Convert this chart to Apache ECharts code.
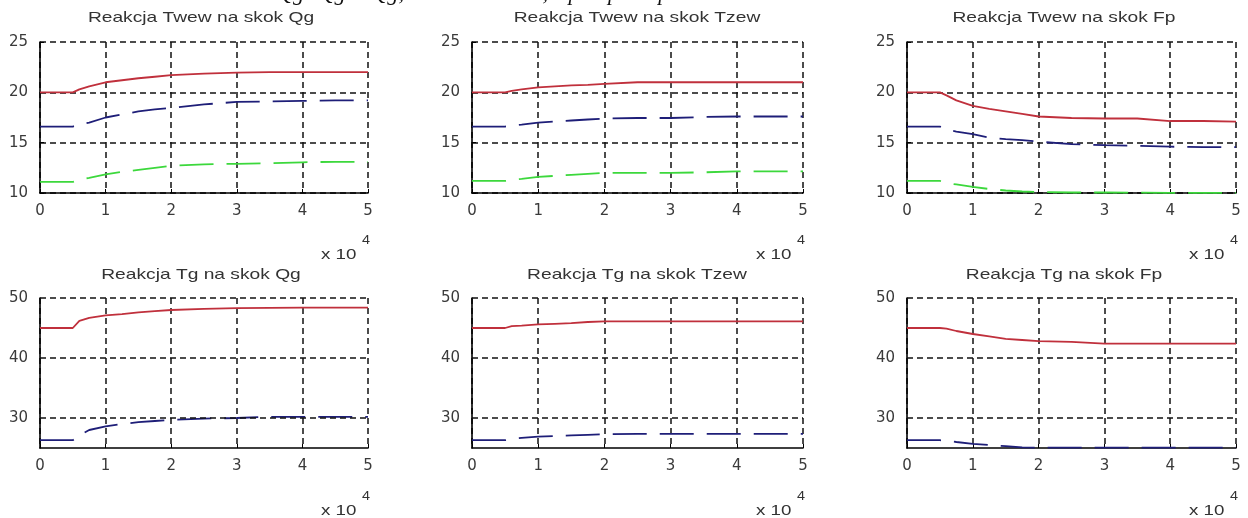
<!DOCTYPE html>
<html>
<head>
<meta charset="utf-8">
<script src="https://cdn.jsdelivr.net/npm/echarts/dist/echarts.min.js"></script>
<style>
  html, body { margin: 0; padding: 0; background: #fff; }
  #chart { width: 1248px; height: 518px; }
</style>
</head>
<body>
<div id="chart"></div>
<script>
// ---------- data ----------
const timeSteps = [0, 5000, 6000, 7500, 10000, 12500, 15000, 17500, 20000, 25000, 30000, 35000, 40000, 45000, 50000];

const titles = [
  'Reakcja Twew na skok Qg', 'Reakcja Twew na skok Tzew', 'Reakcja Twew na skok Fp',
  'Reakcja Tg na skok Qg', 'Reakcja Tg na skok Tzew', 'Reakcja Tg na skok Fp'
];

// Twew response to Qg step
const twewQgRed   = [20.0, 20.0, 20.3, 20.6, 21.0, 21.2, 21.4, 21.55, 21.7, 21.85, 21.95, 22.0, 22.0, 22.0, 22.0];
const twewQgBlue  = [16.6, 16.6, 16.8, 17.0, 17.5, 17.8, 18.1, 18.3, 18.45, 18.8, 19.05, 19.1, 19.15, 19.2, 19.2];
const twewQgGreen = [11.1, 11.1, 11.3, 11.5, 11.85, 12.1, 12.3, 12.5, 12.7, 12.85, 12.9, 12.95, 13.05, 13.1, 13.1];
// Twew response to Tzew step
const twewTzRed   = [20.0, 20.0, 20.15, 20.3, 20.5, 20.6, 20.7, 20.75, 20.85, 21.0, 21.0, 21.0, 21.0, 21.0, 21.0];
const twewTzBlue  = [16.6, 16.6, 16.7, 16.8, 17.0, 17.1, 17.2, 17.3, 17.4, 17.45, 17.45, 17.55, 17.6, 17.6, 17.6];
const twewTzGreen = [11.2, 11.2, 11.3, 11.4, 11.6, 11.7, 11.8, 11.9, 12.0, 12.0, 12.0, 12.05, 12.15, 12.15, 12.15];
// Twew response to Fp step
const twewFpRed   = [20.0, 20.0, 19.7, 19.2, 18.65, 18.35, 18.1, 17.85, 17.6, 17.45, 17.4, 17.4, 17.15, 17.15, 17.1];
const twewFpBlue  = [16.6, 16.6, 16.3, 16.1, 15.85, 15.5, 15.35, 15.25, 15.1, 14.85, 14.75, 14.7, 14.6, 14.55, 14.55];
const twewFpGreen = [11.2, 11.2, 11.0, 10.85, 10.6, 10.4, 10.25, 10.15, 10.1, 10.05, 10.05, 10.03, 10.02, 10.02, 10.02];
// Tg response to Qg step
const tgQgRed   = [45.0, 45.0, 46.2, 46.7, 47.1, 47.3, 47.6, 47.8, 48.0, 48.2, 48.3, 48.35, 48.4, 48.4, 48.4];
const tgQgBlue  = [26.3, 26.3, 27.1, 28.0, 28.6, 29.0, 29.3, 29.5, 29.7, 29.9, 30.0, 30.2, 30.2, 30.2, 30.2];
// Tg response to Tzew step
const tgTzRed   = [45.0, 45.0, 45.3, 45.4, 45.6, 45.7, 45.8, 46.0, 46.1, 46.1, 46.1, 46.1, 46.1, 46.1, 46.1];
const tgTzBlue  = [26.3, 26.3, 26.5, 26.7, 26.9, 27.0, 27.1, 27.2, 27.3, 27.35, 27.35, 27.35, 27.35, 27.35, 27.35];
// Tg response to Fp step
const tgFpRed   = [45.0, 45.0, 44.9, 44.5, 44.0, 43.6, 43.2, 43.0, 42.8, 42.7, 42.4, 42.4, 42.4, 42.4, 42.4];
const tgFpBlue  = [26.3, 26.3, 26.2, 26.0, 25.7, 25.5, 25.3, 25.1, 25.05, 25.05, 25.05, 25.05, 25.05, 25.05, 25.05];

const topRowYTicks = [10, 15, 20, 25];
const bottomRowYTicks = [30, 40, 50];

// ---------- layout ----------
const colLeft = [40, 472, 907];
const colWidth = [328, 331, 329];
const rowTop = [42, 298];
const rowHeight = [151, 150];
const titleCenterX = [201, 637, 1064];
const titleCenterY = [18, 275];
const expCenterY = [255, 511];

const RED = '#c0303c';
const BLUE = '#1e1e78';
const GREEN = '#3cd83c';
const gridLine = { color: '#111', width: 1.5, type: [6, 4] };
const labelStyle = { fontFamily: 'DejaVu Sans', fontSize: 15, color: '#3a3a3a' };

const panels = [
  { series: [[twewQgRed, RED], [twewQgBlue, BLUE], [twewQgGreen, GREEN]] },
  { series: [[twewTzRed, RED], [twewTzBlue, BLUE], [twewTzGreen, GREEN]] },
  { series: [[twewFpRed, RED], [twewFpBlue, BLUE], [twewFpGreen, GREEN]] },
  { series: [[tgQgRed, RED], [tgQgBlue, BLUE]] },
  { series: [[tgTzRed, RED], [tgTzBlue, BLUE]] },
  { series: [[tgFpRed, RED], [tgFpBlue, BLUE]] }
];

const grids = [], xAxes = [], yAxes = [], series = [], graphics = [];

panels.forEach((p, i) => {
  const row = Math.floor(i / 3), col = i % 3;
  grids.push({ left: colLeft[col], top: rowTop[row], width: colWidth[col], height: rowHeight[row], containLabel: false });
  xAxes.push({
    gridIndex: i, type: 'value', min: 0, max: 50000, interval: 10000,
    axisLine: { show: true, onZero: false, lineStyle: { color: '#000', width: 1.6 } },
    axisTick: { show: true, inside: true, length: 4, lineStyle: { color: '#000' } },
    axisLabel: Object.assign({ formatter: v => String(v / 10000), margin: 11 }, labelStyle),
    splitLine: { show: true, lineStyle: gridLine }
  });
  if (row === 0) {
    yAxes.push({
      gridIndex: i, type: 'value', min: topRowYTicks[0], max: topRowYTicks[topRowYTicks.length - 1], interval: 5,
      axisLine: { show: true, onZero: false, lineStyle: { color: '#000', width: 1.6 } },
      axisTick: { show: true, inside: true, length: 4, lineStyle: { color: '#000' } },
      axisLabel: Object.assign({ margin: 12 }, labelStyle),
      splitLine: { show: true, lineStyle: gridLine }
    });
  } else {
    yAxes.push({
      gridIndex: i, type: 'value', min: 25, max: 50, interval: 5,
      axisLine: { show: true, onZero: false, lineStyle: { color: '#000', width: 1.6 } },
      axisTick: { show: false },
      axisLabel: Object.assign({ margin: 12,
                   formatter: v => (bottomRowYTicks.indexOf(v) >= 0 ? String(v) : '') }, labelStyle),
      splitLine: { show: false }
    });
  }
  p.series.forEach(([vals, color], k) => {
    const s = {
      type: 'line', xAxisIndex: i, yAxisIndex: i,
      data: timeSteps.map((t, j) => [t, vals[j]]),
      showSymbol: false, symbol: 'none', silent: true, animation: false,
      lineStyle: { color: color, width: 1.8, type: k === 0 ? 'solid' : [34, 13] },
      z: 3 + (2 - k)
    };
    if (row === 1 && k === 0) {
      s.markLine = {
        silent: true, symbol: ['none', 'none'], label: { show: false }, animation: false,
        lineStyle: gridLine,
        data: bottomRowYTicks.map(v => ({ yAxis: v }))
      };
    }
    series.push(s);
  });

  // title
  graphics.push({
    type: 'text', x: titleCenterX[col], y: titleCenterY[row], scaleX: 1.28,
    style: { text: titles[i], fontFamily: 'Liberation Sans', fontSize: 15, fill: '#333',
             align: 'center', verticalAlign: 'middle', textAlign: 'center', textVerticalAlign: 'middle' }
  });
  // x 10^4 multiplier
  const right = colLeft[col] + colWidth[col];
  graphics.push({
    type: 'text', x: right - 47, y: expCenterY[row], scaleX: 1.25,
    style: { text: 'x 10', fontFamily: 'Liberation Sans', fontSize: 15, fill: '#333',
             align: 'left', verticalAlign: 'middle', textAlign: 'left', textVerticalAlign: 'middle' }
  });
  graphics.push({
    type: 'text', x: right - 6, y: expCenterY[row] - 14, scaleX: 1.2,
    style: { text: '4', fontFamily: 'Liberation Sans', fontSize: 12, fill: '#333',
             align: 'left', verticalAlign: 'middle', textAlign: 'left', textVerticalAlign: 'middle' }
  });
});

// clipped header line of the source figure
graphics.push({
  type: 'text', x: 277, y: -17,
  style: { text: 'Qg=Qg+dQg; Tzew=Tzew+1; Fp=Fp+dFp', fontFamily: 'Liberation Serif', fontStyle: 'italic', fontSize: 22, fill: '#111',
           align: 'left', verticalAlign: 'top', textAlign: 'left', textVerticalAlign: 'top' }
});

const chart = echarts.init(document.getElementById('chart'), null, { renderer: 'canvas' });
chart.setOption({
  animation: false,
  backgroundColor: '#fff',
  grid: grids,
  xAxis: xAxes,
  yAxis: yAxes,
  series: series,
  graphic: graphics
});
</script>
</body>
</html>
